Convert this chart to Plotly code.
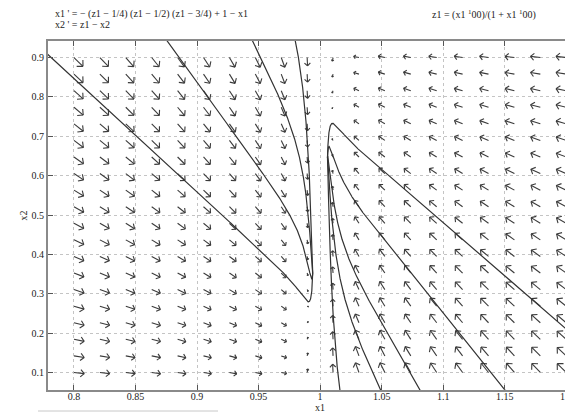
import numpy as np
import plotly.graph_objects as go

# ---- data ----
x_range = [0.7789, 1.2120]
y_range = [0.0555, 0.9420]
x_ticks = [0.8, 0.85, 0.9, 0.95, 1.0, 1.05, 1.1, 1.15, 1.2]
x_tick_labels = ["0.8", "0.85", "0.9", "0.95", "1", "1.05", "1.1", "1.15", "1.2"]
y_ticks = [0.1, 0.2, 0.3, 0.4, 0.5, 0.6, 0.7, 0.8, 0.9]
y_tick_labels = ["0.1", "0.2", "0.3", "0.4", "0.5", "0.6", "0.7", "0.8", "0.9"]
arrow_x = np.linspace(0.8, 1.2, 20)
arrow_y = np.linspace(0.1, 0.9, 20)
# initial points of the drawn solution curves
init_x1 = [0.7790, 0.876, 0.9454, 0.980, 1.2119, 1.016, 1.049, 1.081, 1.150]
init_x2 = [0.907, 0.941, 0.941, 0.941, 0.178, 0.056, 0.056, 0.056, 0.056]

# ---- layout geometry ----
W, H = 573, 412
ML, MR, MT, MB = 40, 0, 33, 30
pw, ph = W - ML - MR, H - MT - MB
sx = pw / (x_range[1] - x_range[0])
sy = ph / (y_range[1] - y_range[0])


def field(x1, x2):
    p = np.power(x1, 100.0)
    z = p / (1.0 + p)
    return -(z - 0.25) * (z - 0.5) * (z - 0.75) + 1.0 - x1, z - x2


def integrate(x1, x2, direction, dt=0.002, tmax=15.0):
    xs, ys = [x1], [x2]
    h = dt * direction
    for _ in range(int(tmax / dt)):
        k1 = field(x1, x2)
        k2 = field(x1 + h * k1[0] / 2, x2 + h * k1[1] / 2)
        k3 = field(x1 + h * k2[0] / 2, x2 + h * k2[1] / 2)
        k4 = field(x1 + h * k3[0], x2 + h * k3[1])
        x1 = x1 + h / 6 * (k1[0] + 2 * k2[0] + 2 * k3[0] + k4[0])
        x2 = x2 + h / 6 * (k1[1] + 2 * k2[1] + 2 * k3[1] + k4[1])
        xs.append(x1)
        ys.append(x2)
        if x1 < x_range[0] - 0.02 or x1 > x_range[1] + 0.02 or x2 < y_range[0] - 0.02 or x2 > y_range[1] + 0.02:
            break
        v = field(x1, x2)
        if abs(v[0]) * sx + abs(v[1]) * sy < 0.02:
            break
    return xs, ys


tx, ty = [], []
for a, b in zip(init_x1, init_x2):
    bx, by = integrate(a, b, -1)
    fx, fy = integrate(a, b, 1)
    tx += bx[::-1] + fx[1:] + [None]
    ty += by[::-1] + fy[1:] + [None]

# ---- arrows ----
ax_, ay_ = [], []
for xv in arrow_x:
    for yv in arrow_y:
        u, v = field(xv, yv)
        px, py = u * sx, v * sy
        m = np.hypot(px, py)
        if m < 1e-9:
            continue
        L = min(13.0, 12.5 * (m / 500.0) ** 0.6)
        ux, uy = px / m, py / m
        hx, hy = xv + ux * L / sx, yv + uy * L / sy
        ax_ += [xv, hx, None]
        ay_ += [yv, hy, None]
        bl = 0.5 * L
        for ang in (np.pi / 4, -np.pi / 4):
            c, s = np.cos(ang), np.sin(ang)
            bx_ = -ux * c + uy * s
            by_ = -ux * s - uy * c
            ax_ += [hx, hx + bx_ * bl / sx, None]
            ay_ += [hy, hy + by_ * bl / sy, None]

fig = go.Figure()
fig.add_trace(go.Scatter(x=ax_, y=ay_, mode="lines", line=dict(color="#3a3a3a", width=1.1),
                         hoverinfo="skip", showlegend=False))
fig.add_trace(go.Scatter(x=tx, y=ty, mode="lines", line=dict(color="#333333", width=1.2),
                         hoverinfo="skip", showlegend=False))

font = dict(family="Liberation Serif, Times New Roman, serif", size=10, color="#222222")
axis_common = dict(showgrid=True, gridcolor="#c4c4c4", griddash="dot", gridwidth=1,
                   zeroline=False, showline=True, linecolor="#8a8a8a", linewidth=2,
                   ticks="inside", ticklen=5, tickcolor="#555555", tickfont=font, automargin=False)
fig.update_xaxes(range=x_range, tickvals=x_ticks, ticktext=x_tick_labels, mirror="ticks",
                 ticklabelstandoff=-4, **axis_common)
fig.update_yaxes(range=y_range, tickvals=y_ticks, ticktext=y_tick_labels, mirror=False, **axis_common)

fig.update_layout(
    width=W, height=H, margin=dict(l=ML, r=MR, t=MT, b=MB, pad=0),
    paper_bgcolor="white", plot_bgcolor="white", showlegend=False,
    annotations=[
        dict(text="x1 ' = − (z1 − 1/4) (z1 − 1/2) (z1 − 3/4) + 1 − x1", xref="paper", yref="paper",
             x=(45 - ML) / pw, y=1 + (MT - 6) / ph, xanchor="left", yanchor="middle", showarrow=False, font=font),
        dict(text="x2 ' = z1 − x2", xref="paper", yref="paper",
             x=(45 - ML) / pw, y=1 + (MT - 16) / ph, xanchor="left", yanchor="middle", showarrow=False, font=font),
        dict(text="z1 = (x1 <sup>1</sup>00)/(1 + x1 <sup>1</sup>00)", xref="paper", yref="paper",
             x=(422 - ML) / pw, y=1 + (MT - 7) / ph, xanchor="left", yanchor="middle", showarrow=False, font=font),
        dict(text="x1", xref="x", yref="paper", x=1.0, y=-(400 - MT - ph) / ph,
             xanchor="center", yanchor="middle", showarrow=False, font=font),
        dict(text="x2", xref="paper", yref="paper", x=-(40 - 15) / pw, y=0.5, textangle=-90,
             xanchor="center", yanchor="middle", showarrow=False, font=font),
    ],
    shapes=[dict(type="line", xref="paper", yref="paper", x0=(30 - ML) / pw, x1=(210 - ML) / pw,
                 y0=-(403 - MT - ph) / ph, y1=-(403 - MT - ph) / ph, line=dict(color="#c8c8c8", width=1))],
)
fig.write_html("out.html")
